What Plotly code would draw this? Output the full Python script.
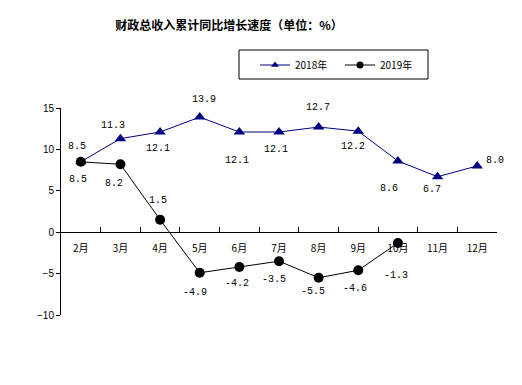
import plotly.graph_objects as go

months = ["2月", "3月", "4月", "5月", "6月", "7月", "8月", "9月", "10月", "11月", "12月"]
v2018 = [8.5, 11.3, 12.1, 13.9, 12.1, 12.1, 12.7, 12.2, 8.6, 6.7, 8.0]
v2019 = [8.5, 8.2, 1.5, -4.9, -4.2, -3.5, -5.5, -4.6, -1.3]
y_ticks = [-10, -5, 0, 5, 10, 15]
title = "财政总收入累计同比增长速度（单位：%）"

# label offsets (pixels) — style only
off2018 = [(-4, 15), (-7, 13), (-2, -16), (4, 18), (-2, -28), (-3, -17),
           (-1, 20), (-5, -15), (-9, -28), (-6, -13), (18, 5)]
off2019 = [(-3, -18), (-6, -19), (-2, 19), (-5, -20), (-2, -17), (-5, -18),
           (-6, -14), (-3, -18), (-2, -33)]

C18, C19 = "#000080", "#000000"

fig = go.Figure()
fig.add_trace(go.Scatter(
    x=months, y=v2018, name="2018年", mode="lines+markers", showlegend=False,
    line=dict(color=C18, width=1),
    marker=dict(symbol="triangle-up", size=10, color=C18),
))
fig.add_trace(go.Scatter(
    x=months[:len(v2019)], y=v2019, name="2019年", mode="lines+markers", showlegend=False,
    line=dict(color=C19, width=1),
    marker=dict(symbol="circle", size=10, color=C19),
))
# legend entries (smaller symbols as in the original legend)
fig.add_trace(go.Scatter(
    x=[None], y=[None], name="2018年", mode="lines+markers",
    line=dict(color=C18, width=1), marker=dict(symbol="triangle-up", size=7, color=C18),
))
fig.add_trace(go.Scatter(
    x=[None], y=[None], name="2019年", mode="lines+markers",
    line=dict(color=C19, width=1), marker=dict(symbol="circle", size=7, color=C19),
))

label_font = dict(family="Liberation Mono, DejaVu Sans Mono", size=10, color="black")
ann = []
for m, v, (dx, dy) in zip(months, v2018, off2018):
    ann.append(dict(x=m, y=v, text=f"{v:.1f}", showarrow=False, xshift=dx, yshift=dy, font=label_font))
for m, v, (dx, dy) in zip(months, v2019, off2019):
    ann.append(dict(x=m, y=v, text=f"{v:.1f}", showarrow=False, xshift=dx, yshift=dy, font=label_font))

L, R, T, B = 61, 497, 108, 315
W, H = 522, 385
pw, ph = R - L, B - T

fig.update_layout(
    width=W, height=H,
    margin=dict(l=L, r=W - R, t=T, b=H - B, autoexpand=False),
    paper_bgcolor="white", plot_bgcolor="white",
    title=dict(text="<b>" + title + "</b>", x=229 / W, xanchor="center",
               y=1 - 26 / H, yanchor="middle",
               font=dict(family="Noto Sans CJK SC", size=12, color="black")),
    showlegend=True,
    legend=dict(orientation="h", x=(255 - L) / pw, xanchor="left",
                y=(B - 65) / ph, yanchor="middle",
                bgcolor="rgba(0,0,0,0)", borderwidth=0,
                font=dict(family="Noto Sans CJK SC", size=10, color="black"),
                itemwidth=30, entrywidth=40),
    annotations=ann,
    shapes=[dict(type="rect", xref="paper", yref="paper",
                 x0=(239 - L) / pw, x1=(428 - L) / pw,
                 y0=(B - 79) / ph, y1=(B - 50) / ph,
                 line=dict(color="black", width=1), fillcolor="rgba(0,0,0,0)")],
    font=dict(family="Noto Sans CJK SC", size=10, color="black"),
)
fig.update_xaxes(
    type="category", range=[-0.5, 10.5],
    anchor="free", position=0.4, automargin=False,
    showline=True, linecolor="black", linewidth=1,
    ticks="inside", ticklen=5, tickcolor="black", tickson="boundaries",
    ticklabelstandoff=7,
    showgrid=False, zeroline=False,
    tickfont=dict(family="Noto Sans CJK SC", size=10, color="black"),
)
fig.update_yaxes(
    range=[-10, 15], tickvals=y_ticks, automargin=False,
    showline=True, linecolor="black", linewidth=1,
    ticks="outside", ticklen=4, tickcolor="black",
    showgrid=False, zeroline=False,
    tickfont=dict(family="Liberation Sans", size=10, color="black"),
)
fig.write_html("out.html", config={"displayModeBar": False},
               post_script="document.body.style.margin='0';")
